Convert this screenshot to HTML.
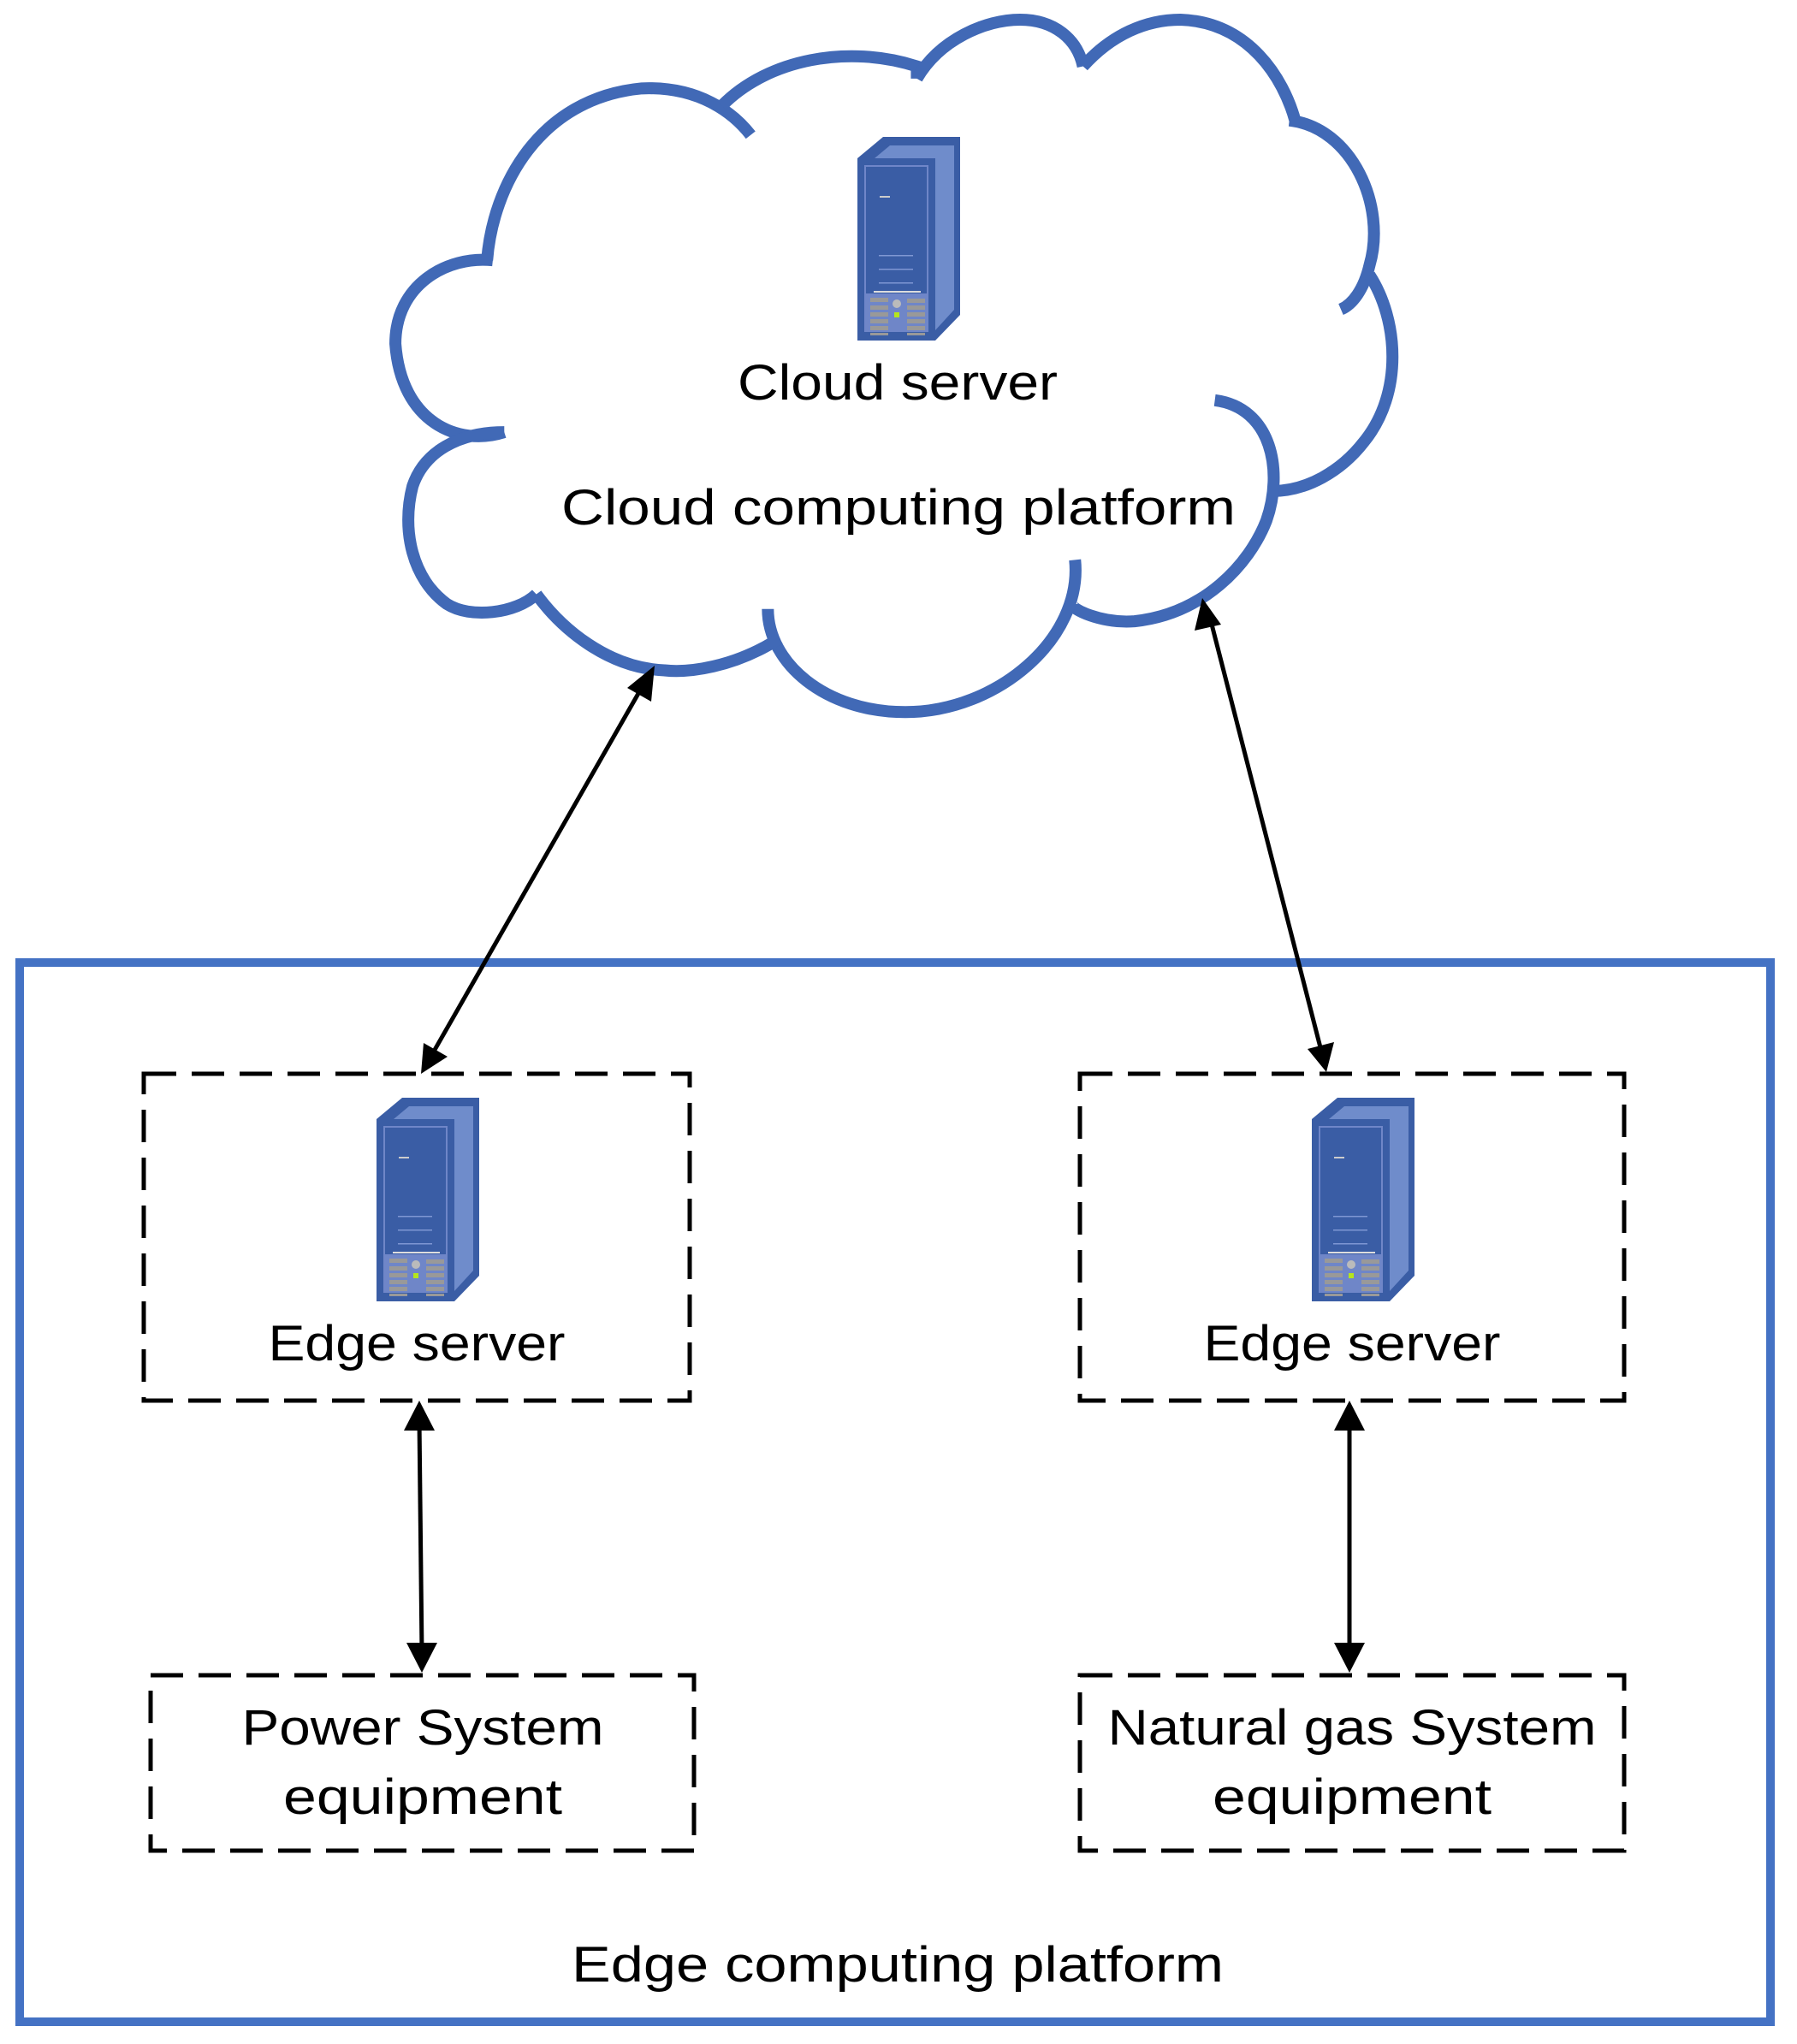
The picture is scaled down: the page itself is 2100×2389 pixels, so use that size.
<!DOCTYPE html>
<html><head><meta charset="utf-8"><style>html,body{margin:0;padding:0;background:#fff}svg{display:block}text{font-family:"Liberation Sans",sans-serif;fill:#000}</style></head>
<body>
<svg width="2100" height="2389" viewBox="0 0 2100 2389" xmlns="http://www.w3.org/2000/svg">
<defs>
<g id="srv">
 <polygon points="2,25 32,0 122,0 122,208 93,238 2,238" fill="#3A5DA5"/>
 <polygon points="40,10 115,10 115,202 93,226 93,25 22,25" fill="#6F8CCB"/>
 <rect x="2" y="25" width="91" height="213" fill="#3A5DA5"/>
 <rect x="10" y="33" width="75" height="195" fill="#6F86C8"/>
 <rect x="12" y="35" width="71" height="148" fill="#3A5DA5"/>
 <rect x="28" y="69" width="12" height="2" fill="#ccc"/>
 <rect x="27" y="138" width="40" height="1.5" fill="#7f97d4"/>
 <rect x="27" y="154" width="40" height="1.5" fill="#7f97d4"/>
 <rect x="27" y="170" width="40" height="1.5" fill="#7f97d4"/>
 <rect x="21" y="180" width="55" height="2" fill="#ddd"/>
 <g fill="#999">
  <rect x="17" y="188" width="21" height="5"/><rect x="17" y="197" width="21" height="5"/><rect x="17" y="205" width="21" height="5"/><rect x="17" y="213" width="21" height="5"/><rect x="17" y="221" width="21" height="5"/><rect x="17" y="229" width="21" height="3"/>
  <rect x="60" y="189" width="21" height="5"/><rect x="60" y="197" width="21" height="5"/><rect x="60" y="205" width="21" height="5"/><rect x="60" y="213" width="21" height="5"/><rect x="60" y="221" width="21" height="5"/><rect x="60" y="229" width="21" height="3"/>
 </g>
 <circle cx="48" cy="195" r="5" fill="#bbb"/>
 <rect x="45" y="205" width="6" height="6" fill="#b5e61d"/>
</g>
</defs>

<g transform="scale(1.3393,0.574)" fill="none" stroke="#4169B6" stroke-width="14" stroke-linecap="butt">
<path vector-effect="non-scaling-stroke" d="M440,880 C400,910 350,860 345,700 C345,580 390,520 430,530"/>
<path vector-effect="non-scaling-stroke" d="M425,530 C430,380 470,200 560,180 C610,175 640,230 655,275"/>
<path vector-effect="non-scaling-stroke" d="M630,215 C670,120 740,90 800,135 L800,160"/>
<path vector-effect="non-scaling-stroke" d="M800,160 C820,80 860,40 890,40 C920,40 940,80 945,135"/>
<path vector-effect="non-scaling-stroke" d="M945,135 C970,70 1000,40 1030,40 C1090,45 1120,160 1130,245"/>
<path vector-effect="non-scaling-stroke" d="M1125,245 C1180,260 1210,420 1195,540 C1190,590 1180,620 1170,630"/>
<path vector-effect="non-scaling-stroke" d="M1195,560 C1220,650 1225,800 1190,900 C1170,960 1140,1000 1110,1000"/>
<path vector-effect="non-scaling-stroke" d="M1060,815 C1110,830 1120,960 1105,1060 C1090,1150 1050,1250 990,1265 C960,1270 935,1240 935,1230"/>
<path vector-effect="non-scaling-stroke" d="M938,1140 C945,1300 870,1450 790,1450 C720,1450 670,1350 670,1240"/>
<path vector-effect="non-scaling-stroke" d="M680,1300 C640,1360 600,1370 580,1365 C530,1360 490,1280 468,1210"/>
<path vector-effect="non-scaling-stroke" d="M468,1210 C450,1250 410,1260 390,1230 C360,1180 350,1080 360,990 C370,920 400,880 440,880"/>
</g>

<use href="#srv" x="1000" y="160"/>
<text x="1049" y="467" font-size="58" text-anchor="middle" textLength="374" lengthAdjust="spacingAndGlyphs">Cloud server</text>
<text x="1050" y="613" font-size="58" text-anchor="middle" textLength="788" lengthAdjust="spacingAndGlyphs">Cloud computing platform</text>

<rect x="23" y="1125" width="2046" height="1238" fill="none" stroke="#4472C4" stroke-width="10"/>

<g fill="none" stroke="#000" stroke-width="5" stroke-dasharray="38,18">
<rect x="168" y="1255" width="638" height="382"/>
<rect x="1262" y="1255" width="636" height="382"/>
<rect x="176" y="1958" width="635" height="205"/>
<rect x="1262" y="1958" width="636" height="205"/>
</g>

<use href="#srv" x="438" y="1283"/>
<use href="#srv" x="1531" y="1283"/>
<text x="487" y="1590" font-size="58" text-anchor="middle" textLength="347" lengthAdjust="spacingAndGlyphs">Edge server</text>
<text x="1580" y="1590" font-size="58" text-anchor="middle" textLength="347" lengthAdjust="spacingAndGlyphs">Edge server</text>
<text x="494" y="2039" font-size="58" text-anchor="middle" textLength="423" lengthAdjust="spacingAndGlyphs">Power System</text>
<text x="494" y="2120" font-size="58" text-anchor="middle" textLength="326" lengthAdjust="spacingAndGlyphs">equipment</text>
<text x="1580" y="2039" font-size="58" text-anchor="middle" textLength="571" lengthAdjust="spacingAndGlyphs">Natural gas System</text>
<text x="1580" y="2120" font-size="58" text-anchor="middle" textLength="326" lengthAdjust="spacingAndGlyphs">equipment</text>
<text x="1049" y="2316" font-size="58" text-anchor="middle" textLength="762" lengthAdjust="spacingAndGlyphs">Edge computing platform</text>

<g stroke="#000" stroke-width="5" fill="#000">
<line x1="752" y1="800" x2="504" y2="1234"/>
<line x1="1413" y1="718" x2="1545" y2="1232"/>
<line x1="490" y1="1660" x2="493" y2="1932"/>
<line x1="1577" y1="1660" x2="1577" y2="1932"/>
</g>
<g fill="#000">
<polygon points="765,778 733,804 761,820"/>
<polygon points="492,1255 495,1219 523,1235"/>
<polygon points="1405,699 1396,737 1427,730"/>
<polygon points="1550,1253 1528,1226 1559,1218"/>
<polygon points="490,1637 472,1672 508,1672"/>
<polygon points="493,1955 475,1920 511,1920"/>
<polygon points="1577,1637 1559,1672 1595,1672"/>
<polygon points="1577,1955 1559,1920 1595,1920"/>
</g>
</svg>
</body></html>
